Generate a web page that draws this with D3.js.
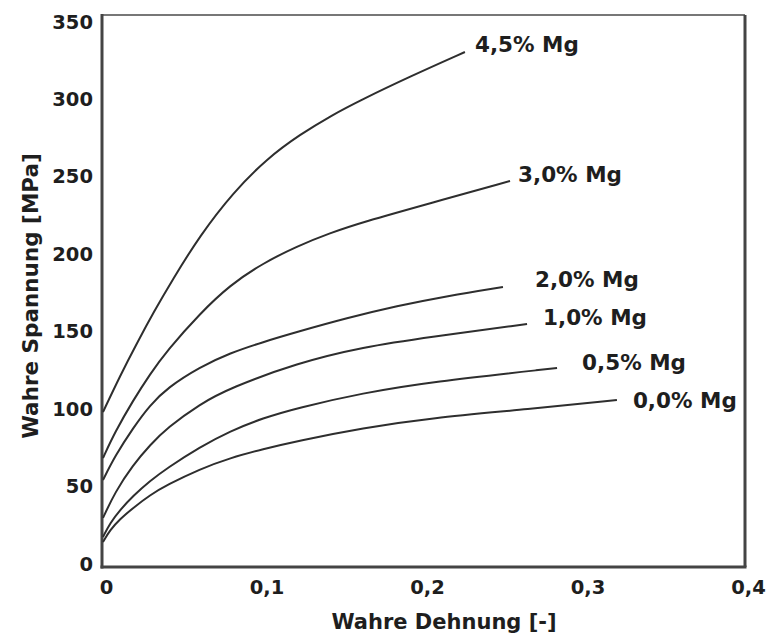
<!DOCTYPE html>
<html>
<head>
<meta charset="utf-8">
<script src="https://cdn.jsdelivr.net/npm/d3@7"></script>
<style>
  html, body { margin: 0; padding: 0; background: #fff; }
  svg { display: block; }
  text { font-family: "DejaVu Sans", sans-serif; font-weight: bold; fill: #1e1e1e; }
</style>
</head>
<body>
<div id="chart"></div>
<script>
// ---- data ----
const seriesNames = ["4,5% Mg", "3,0% Mg", "2,0% Mg", "1,0% Mg", "0,5% Mg", "0,0% Mg"];

const strain45 = [0, 0.0106, 0.0212, 0.0318, 0.043, 0.0604, 0.081, 0.1022, 0.1227, 0.1433, 0.1601, 0.1913, 0.2255];
const stress45 = [97.5, 120.8, 142.1, 162.4, 182.4, 211.5, 239.2, 261.2, 276.7, 289.6, 298.7, 314.2, 330.0];

const strain30 = [0, 0.0075, 0.0187, 0.0293, 0.0399, 0.0604, 0.0791, 0.0997, 0.1209, 0.1414, 0.162, 0.2037, 0.2536];
const stress30 = [67.8, 84.6, 104.9, 122.0, 137.2, 161.1, 179.5, 193.6, 204.6, 213.1, 220.2, 232.3, 246.7];

const strain20 = [0, 0.0075, 0.0187, 0.0293, 0.0399, 0.0604, 0.0791, 0.0997, 0.1209, 0.152, 0.1832, 0.2143, 0.2492];
const stress20 = [53.6, 69.1, 87.2, 102.0, 113.0, 126.6, 135.6, 142.7, 149.2, 158.2, 166.0, 172.4, 178.2];

const strain10 = [0, 0.0075, 0.0187, 0.0293, 0.0399, 0.0604, 0.0791, 0.1209, 0.162, 0.2037, 0.2642];
const stress10 = [29.1, 45.8, 63.3, 76.2, 87.2, 102.7, 113.0, 129.1, 139.5, 145.9, 154.3];

const strain05 = [0, 0.0044, 0.0106, 0.0187, 0.0293, 0.0399, 0.0604, 0.0791, 0.0997, 0.1209, 0.162, 0.2037, 0.2829];
const stress05 = [16.8, 25.8, 34.2, 43.3, 53.0, 61.3, 74.9, 85.2, 93.6, 100.1, 109.8, 116.9, 125.9];

const strain00 = [0, 0.0044, 0.0106, 0.0187, 0.0293, 0.0399, 0.0604, 0.0791, 0.0997, 0.1209, 0.162, 0.2037, 0.266, 0.3202];
const stress00 = [13.6, 21.3, 28.4, 35.5, 43.9, 50.4, 60.7, 67.8, 73.6, 78.8, 87.2, 93.6, 99.4, 105.3];

const xTicks = [0, 0.1, 0.2, 0.3, 0.4];
const xTickLabels = ["0", "0,1", "0,2", "0,3", "0,4"];
const yTicks = [0, 50, 100, 150, 200, 250, 300, 350];
const xTitle = "Wahre Dehnung [-]";
const yTitle = "Wahre Spannung [MPa]";

// ---- layout ----
const W = 768, H = 635;
const labelOffsets = [[10, 0], [8, 1], [32, 0], [16, 1], [25, 2], [16, 8]];

const svg = d3.select("#chart").append("svg").attr("width", W).attr("height", H);

const x = d3.scaleLinear().domain([0, 0.4]).range([103, 745]);
const y = d3.scaleLinear().domain([0, 350]).range([563, 21]);

const strains = [strain45, strain30, strain20, strain10, strain05, strain00];
const stresses = [stress45, stress30, stress20, stress10, stress05, stress00];
const series = seriesNames.map((name, i) => ({
  name,
  points: strains[i].map((e, j) => [e, stresses[i][j]])
}));

// frame
const fl = x(0) - 1, fr = x(0.4), ft = y(350) - 6, fb = y(0) + 4;
svg.append("line").attr("x1", fl).attr("x2", fr).attr("y1", ft).attr("y2", ft)
  .attr("stroke", "#777").attr("stroke-width", 2);
svg.append("line").attr("x1", fr).attr("x2", fr).attr("y1", ft).attr("y2", fb)
  .attr("stroke", "#444").attr("stroke-width", 3);
svg.append("line").attr("x1", fl).attr("x2", fl).attr("y1", ft - 1).attr("y2", fb + 1.5)
  .attr("stroke", "#444").attr("stroke-width", 3);
svg.append("line").attr("x1", fl - 1.5).attr("x2", fr + 1.5).attr("y1", fb).attr("y2", fb)
  .attr("stroke", "#444").attr("stroke-width", 3);

// axes (labels only, no tick marks)
const yAxis = d3.axisLeft(y).tickValues(yTicks).tickSize(0).tickPadding(0).tickFormat(d3.format("d"));
const gy = svg.append("g").attr("transform", "translate(93,0)").call(yAxis);
gy.select(".domain").remove();
gy.selectAll("text").attr("font-size", 19.5).attr("font-family", "DejaVu Sans").attr("font-weight", "bold")
  .attr("fill", "#1e1e1e").attr("dy", "0.36em");

const xAxis = d3.axisBottom(x).tickValues(xTicks).tickSize(0).tickPadding(0)
  .tickFormat((d, i) => xTickLabels[i]);
const gx = svg.append("g").attr("transform", "translate(3,580)").call(xAxis);
gx.select(".domain").remove();
gx.selectAll("text").attr("font-size", 19.5).attr("font-family", "DejaVu Sans").attr("font-weight", "bold")
  .attr("fill", "#1e1e1e").attr("dy", "0.36em").attr("y", 7);

// titles
svg.append("text").attr("x", 444).attr("y", 629).attr("text-anchor", "middle")
  .attr("font-size", 21).text(xTitle);
svg.append("text").attr("transform", "translate(38,296) rotate(-90)").attr("text-anchor", "middle")
  .attr("font-size", 21.5).text(yTitle);

// curves
const line = d3.line().x(d => x(d[0])).y(d => y(d[1])).curve(d3.curveBasis);
svg.append("g").selectAll("path").data(series).join("path")
  .attr("d", d => line(d.points))
  .attr("fill", "none").attr("stroke", "#2e2e2e").attr("stroke-width", 2);

// curve labels
svg.append("g").selectAll("text").data(series).join("text")
  .attr("x", (d, i) => x(d.points[d.points.length - 1][0]) + labelOffsets[i][0])
  .attr("y", (d, i) => y(d.points[d.points.length - 1][1]) + labelOffsets[i][1])
  .attr("font-size", 21.5)
  .text(d => d.name);
</script>
</body>
</html>
